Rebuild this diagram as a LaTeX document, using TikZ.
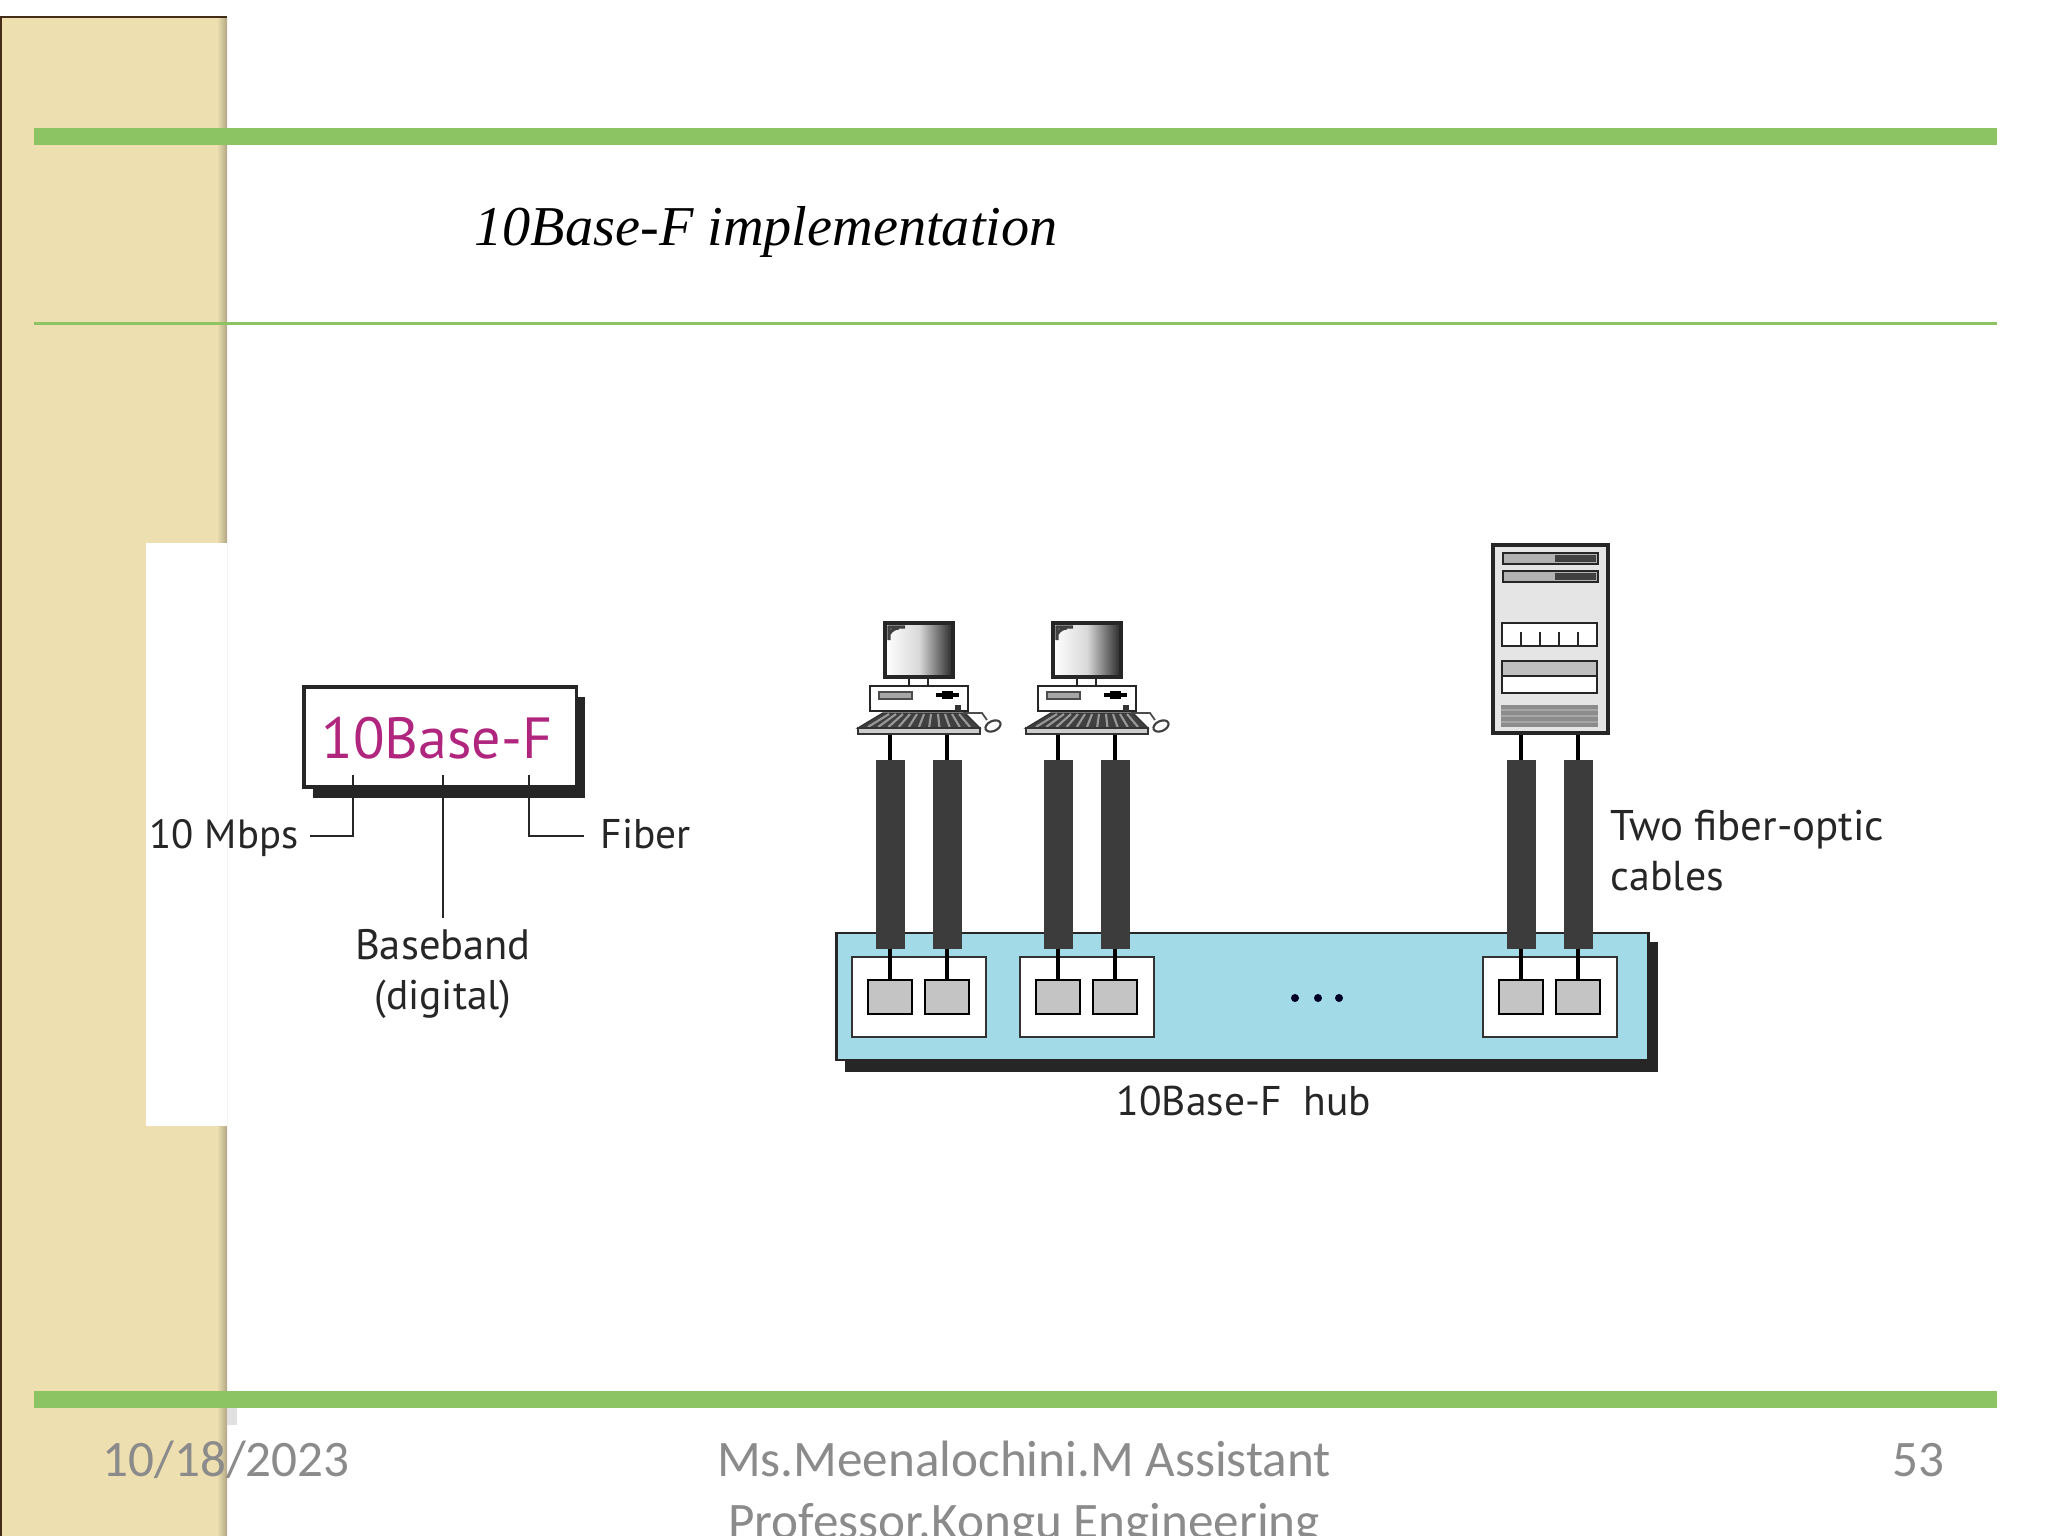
\documentclass[tikz,border=0pt]{standalone}
\usepackage{fontspec}
\setmainfont{Liberation Serif}
\newfontfamily\labelfont{PT Sans}
\newfontfamily\footfont{Carlito}
\usetikzlibrary{positioning}
\definecolor{barGreen}{HTML}{8CC464}
\definecolor{bandTan}{HTML}{EDDFB0}
\definecolor{hubBlue}{HTML}{A2DAE8}
\definecolor{baseMagenta}{HTML}{B0267E}
\definecolor{cableGray}{HTML}{3C3C3C}
\definecolor{portGray}{HTML}{C4C4C4}
\definecolor{footGray}{HTML}{8B8B8B}
\tikzset{
    label text/.style={font=\labelfont\fontsize{12.1}{14}\selectfont,inner sep=0pt,text=black!85},
    foot text/.style={font=\footfont\fontsize{14.55}{17}\selectfont,inner sep=0pt,text=footGray},
    port box/.style={draw=black!80,fill=white,line width=0.5pt,minimum width=1.34cm,minimum height=0.8cm,inner sep=0pt},
    port square/.style={draw=black,fill=portGray,line width=0.6pt,minimum width=0.44cm,minimum height=0.34cm,inner sep=0pt},
    wire/.style={line width=0.9pt,black},
    cable/.style={line width=0.29cm,cableGray},
    leader/.style={line width=0.5pt,black!85},
    part/.style={draw=black!85,line width=0.6pt}
}
\begin{document}
\begin{tikzpicture}[x=0.01cm,y=-0.01cm]
    \useasboundingbox (0,0) rectangle (2048,1536);
    \fill [white] (0,0) rectangle (2048,1536);

    \fill [bandTan] (0,17) rectangle (227,1536);
    \shade [left color=bandTan,right color=bandTan!75!black] (217,17) rectangle (227,1536);
    \fill [black!65!brown] (0,16) rectangle (227,18);
    \fill [black!65!brown] (0,16) rectangle (2,1536);
    \fill [white] (146,543) rectangle (227,1126);
    \fill [black!12] (227,1408) rectangle (237,1425);
    \fill [barGreen] (34,128) rectangle (1997,145);
    \fill [barGreen] (34,322) rectangle (1997,325);
    \fill [barGreen] (34,1391) rectangle (1997,1408);

    \node (title) [anchor=base west,inner sep=0pt,font=\itshape\fontsize{16}{18}\selectfont] at (474,245) {10Base-F implementation};

    \fill [black!85] (313,697) rectangle (585,798);
    \node (baseBox) [draw=black!85,fill=white,line width=0.9pt,minimum width=2.72cm,minimum height=1cm,inner sep=0pt] at (440,737) {};
    \node (baseName) [anchor=base,inner sep=0pt,text=baseMagenta,font=\labelfont\fontsize{16.5}{20}\selectfont] at (437,758) {10Base-F};
    \node (mbps) [label text,font=\labelfont\fontsize{11.6}{14}\selectfont,anchor=base east] at (299,848) {10 Mbps};
    \node (fiber) [label text,font=\labelfont\fontsize{11.8}{14}\selectfont,anchor=base west] at (600,848) {Fiber};
    \node (baseband) [label text,anchor=base] at (443,959) {Baseband};
    \node (digital) [label text,font=\labelfont\fontsize{11.8}{14}\selectfont,anchor=base] at (443,1009) {(digital)};
    \coordinate (mbpsEnd) at (310,836);
    \coordinate (fiberEnd) at (584,836);
    \coordinate (mbpsTop) at (353,775);
    \coordinate (fiberTop) at (529,775);
    \coordinate (bandTop) at (443,775);
    \coordinate (bandEnd) at (443,918);
    \draw [leader] (mbpsTop) |- (mbpsEnd);
    \draw [leader] (fiberTop) |- (fiberEnd);
    \draw [leader] (bandTop) -- (bandEnd);

    \fill [black!85] (845,942) rectangle (1658,1072);
    \node (hub) [draw=black!85,fill=hubBlue,line width=0.8pt,minimum width=8.11cm,minimum height=1.27cm,inner sep=0pt] at (1242.5,996.5) {};
    \node (hubName) [label text,font=\labelfont\fontsize{11.8}{14}\selectfont,anchor=base] at (1244,1115) {10Base-F\ \ hub};
    \foreach \i/\x in {1/890,2/1058,3/1521}{
        \node (bay\i) [port box] at (\x+29,997) {};
        \node (port\i a) [port square] at (\x,997) {};
        \node (port\i b) [port square] at (\x+57,997) {};
        \coordinate (top\i a) at (\x,733);
        \coordinate (top\i b) at (\x+57,733);
        \coordinate (upper\i a) at (\x,760);
        \coordinate (upper\i b) at (\x+57,760);
        \coordinate (lower\i a) at (\x,949);
        \coordinate (lower\i b) at (\x+57,949);
        \foreach \s in {a,b}{
            \draw [wire] (top\i\s) -- (port\i\s.north);
            \draw [cable] (upper\i\s) -- (lower\i\s);
        }
    }
    \foreach \x in {1295,1318,1339}{
        \fill [black!85!blue] (\x,998) circle (4);
    }

    \foreach \x in {0,168}{
        \begin{scope}[xshift=\x*0.01cm]
            \fill [black!80] (893,685) rectangle (945,688);
            \draw [part,fill=white] (909,677) rectangle (928,686);
            \draw [part,line width=1pt,left color=white,right color=black!85,middle color=black!15] (885,623) rectangle (953,677);
            \draw [line width=0.9pt,black!75] (889,640) -- (889,627) -- (905,627) (889,634) .. controls (892,630) and (895,628) .. (899,628);
            \draw [part,fill=white] (870,686) rectangle (968,711);
            \draw [black!70,fill=black!35,line width=0.4pt] (879,692) rectangle (912,699);
            \draw [black,line width=1.1pt] (936,695) -- (959,695);
            \draw [black,line width=0.5pt] (942,692) -- (953,692) (942,698) -- (953,698);
            \fill [black!80] (955,705) rectangle (961,711);
            \draw [black!80,line width=0.4pt,fill=black!75] (883,713) -- (965,713) -- (980,728) -- (858,728) -- cycle;
            \foreach \k in {0,...,10}{
                \draw [black!40,line width=0.6pt] (889+\k*7,714) -- (868+\k*10.2,727);
            }
            \draw [black!80,fill=black!20,line width=0.6pt] (858,728) rectangle (980,734);
            \draw [black!70,line width=0.5pt] (963,713) -- (982,713) -- (987,720);
            \draw [black!75,fill=white,line width=0.6pt,rotate around={25:(993,726)}] (993,726) ellipse (8 and 5);
        \end{scope}
    }

    \draw [part,fill=black!10,line width=1.1pt] (1493,545) rectangle (1608,733);
    \foreach \y in {553,571}{
        \draw [part,fill=black!30] (1503,\y) rectangle (1598,\y+11);
        \fill [black!75] (1555,\y+2) rectangle (1596,\y+9);
    }
    \draw [part,fill=white] (1502,623) rectangle (1597,646);
    \foreach \x in {1521,1540,1559,1578}{
        \draw [part] (\x,632) -- (\x,646);
    }
    \draw [part,fill=white] (1502,661) rectangle (1597,693);
    \draw [part,fill=black!25] (1502,661) rectangle (1597,676);
    \fill [black!45] (1501,705) rectangle (1598,727);
    \foreach \y in {710,716,722}{
        \draw [black!35,line width=0.4pt] (1501,\y) -- (1598,\y);
    }

    \node (cablesOne) [label text,font=\labelfont\fontsize{12.2}{14}\selectfont,anchor=base west] at (1610,840) {Two fiber-optic};
    \node (cablesTwo) [label text,font=\labelfont\fontsize{11.9}{14}\selectfont,anchor=base west] at (1610,890) {cables};

    \node (date) [foot text,anchor=base west] at (102,1476) {10/18/2023};
    \node (authorOne) [foot text,anchor=base] at (1024,1476) {Ms.Meenalochini.M Assistant};
    \node (authorTwo) [foot text,anchor=base] at (1024,1538) {Professor,Kongu Engineering};
    \node (pageNo) [foot text,anchor=base east] at (1945,1476) {53};
\end{tikzpicture}
\end{document}
